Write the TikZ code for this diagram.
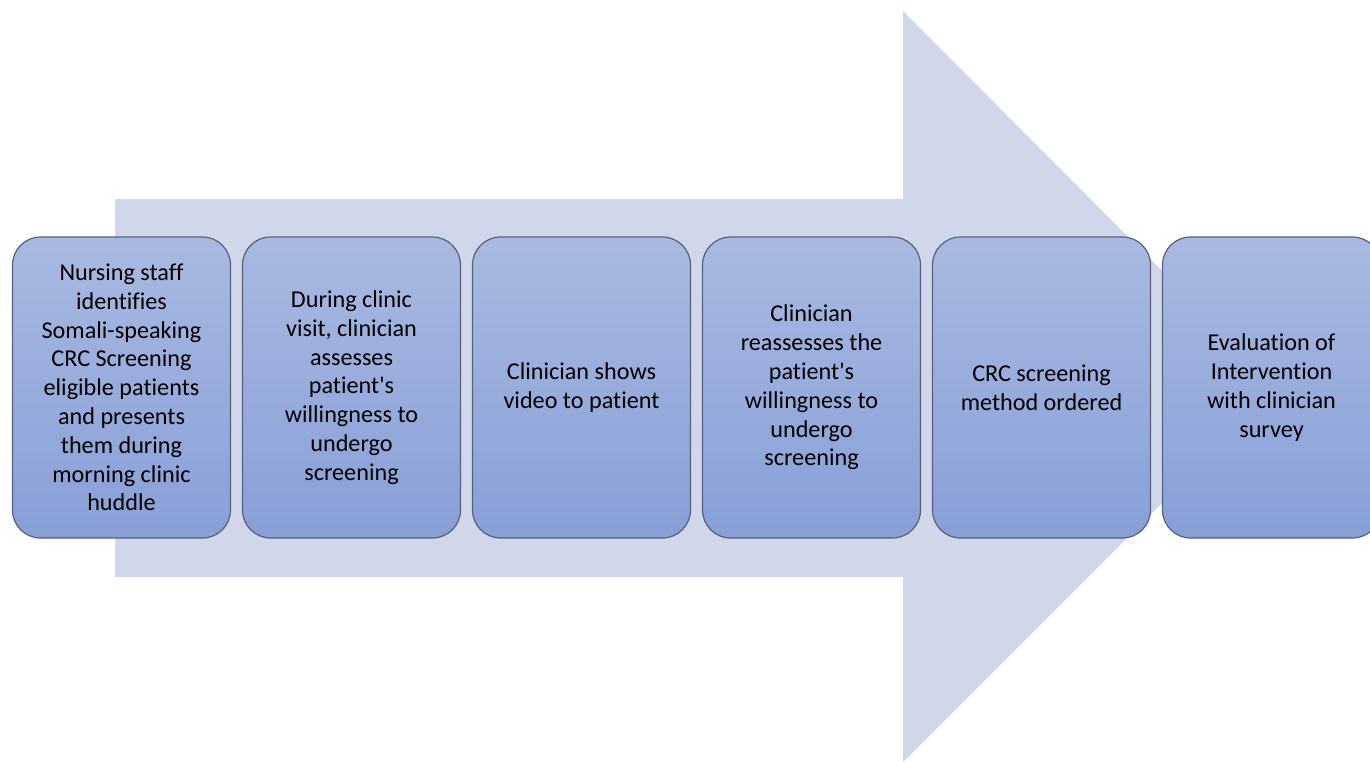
\documentclass[tikz,border=0pt]{standalone}
\usepackage{fontspec}
\setmainfont{Carlito}[Ligatures={NoCommon}]
\usepackage{tikz}
\usetikzlibrary{positioning}
\definecolor{arrowpale}{HTML}{D0D7EB}
\definecolor{boxtop}{HTML}{A9B9E1}
\definecolor{boxbottom}{HTML}{889FD7}
\definecolor{boxline}{HTML}{56607A}
\tikzset{stage/.style={draw=boxline,line width=0.6pt,top color=boxtop,bottom color=boxbottom,rounded corners=14pt,align=center,font=\fontsize{12.1}{14.4}\selectfont,minimum width=109pt,minimum height=150.5pt,inner sep=0pt}, bigarrow/.style={fill=arrowpale,draw=none}}

\begin{document}
\begin{tikzpicture}[x=0.5pt,y=-0.5pt]
\clip (0,0) rectangle (1370,761);
\fill[white] (0,0) rectangle (1370,761);
\fill[bigarrow] (115,199) -- (903,199) -- (903,11) -- (1278,387) -- (903,762) -- (903,577) -- (115,577) -- cycle;
\node[stage] (s1) at (121.5,387.5) {Nursing staff\\identifies\\Somali-speaking\\CRC Screening\\eligible patients\\and presents\\them during\\morning clinic\\huddle};
\node[stage] (s2) at (351.5,387.5) {During clinic\\visit, clinician\\assesses\\patient\textquotesingle s\\willingness to\\undergo\\screening};
\node[stage] (s3) at (581.5,387.5) {Clinician shows\\video to patient};
\node[stage] (s4) at (811.5,387.5) {Clinician\\reassesses the\\patient\textquotesingle s\\willingness to\\undergo\\screening};
\node[stage] (s5) at (1041.5,387.5) {CRC screening\\method ordered};
\node[stage] (s6) at (1271.5,387.5) {Evaluation of\\Intervention\\with clinician\\survey};
\end{tikzpicture}
\end{document}
